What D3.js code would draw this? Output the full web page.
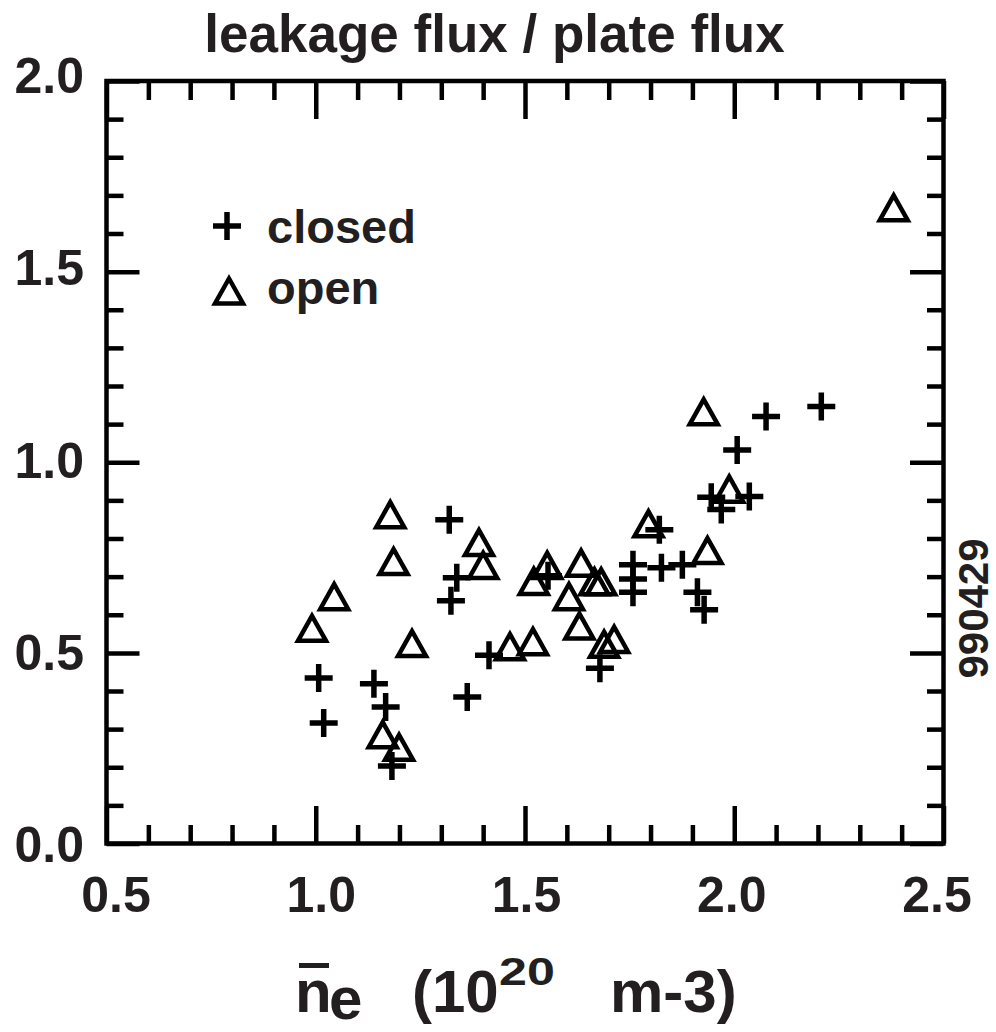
<!DOCTYPE html>
<html><head><meta charset="utf-8">
<script src="https://cdn.jsdelivr.net/npm/d3@7"></script>
<style>
body{margin:0;background:#fff}
svg text{font-family:"Liberation Sans",Arial,Helvetica,sans-serif;font-weight:bold;fill:#231f20}
</style>
</head><body><svg id="c" width="996" height="1032"></svg>
<script>
// ---- data ----
const closedX = [1.007,1.019,1.139,1.167,1.182,1.319,1.337,1.323,1.362,1.414,1.555,1.679,1.758,1.758,1.758,1.821,1.826,1.876,1.912,1.928,1.945,1.969,2.036,2.007,2.076,2.208];
const closedY = [0.434,0.316,0.419,0.358,0.203,0.849,0.697,0.637,0.384,0.494,0.702,0.460,0.731,0.694,0.659,0.823,0.723,0.731,0.659,0.613,0.908,0.876,0.910,1.032,1.120,1.146];
const openX = [0.991,1.044,1.178,1.186,1.230,1.160,1.199,1.390,1.400,1.464,1.519,1.521,1.553,1.634,1.605,1.630,1.666,1.682,1.689,1.713,1.795,1.936,1.927,1.988,2.381];
const openY = [0.567,0.650,0.865,0.742,0.527,0.288,0.255,0.792,0.732,0.519,0.532,0.690,0.732,0.738,0.650,0.573,0.689,0.689,0.525,0.538,0.841,0.771,1.135,0.932,1.670];
const xTicks = [0.5,1.0,1.5,2.0,2.5];
const xTickLabels = ["0.5","1.0","1.5","2.0","2.5"];
const yTicks = [0.0,0.5,1.0,1.5,2.0];
const yTickLabels = ["0.0","0.5","1.0","1.5","2.0"];
const seriesNames = ["closed","open"];
const chartTitle = "leakage flux / plate flux";
const stamp = "990429";

// ---- layout ----
const svg = d3.select("#c");
const x = d3.scaleLinear().domain([0.5,2.5]).range([106.5,943.5]);
const y = d3.scaleLinear().domain([0,2]).range([843.5,81]);
const xLab = d3.scaleLinear().domain([0.5,2.5]).range([116,937]);
const yLab = d3.scaleLinear().domain([0,2]).range([862,93]);
const minorX = d3.range(0.5,2.5001,0.1).filter(v=>Math.abs(v*2-Math.round(v*2))>1e-6);
const minorY = d3.range(0,2.0001,0.1).filter(v=>Math.abs(v*2-Math.round(v*2))>1e-6);

function styleAxis(g){
  g.select(".domain").remove();
  g.selectAll("line").attr("stroke","#000").attr("stroke-width",4.5);
  g.selectAll("text").remove();
}
// bottom
svg.append("g").attr("transform",`translate(0,${y(0)})`).call(d3.axisBottom(x).tickValues(xTicks).tickSize(-37.5).tickFormat("")).call(styleAxis);
svg.append("g").attr("transform",`translate(0,${y(0)})`).call(d3.axisBottom(x).tickValues(minorX).tickSize(-18.5).tickFormat("")).call(styleAxis);
// top
svg.append("g").attr("transform",`translate(0,${y(2)})`).call(d3.axisTop(x).tickValues(xTicks).tickSize(-38).tickFormat("")).call(styleAxis);
svg.append("g").attr("transform",`translate(0,${y(2)})`).call(d3.axisTop(x).tickValues(minorX).tickSize(-19).tickFormat("")).call(styleAxis);
// left
svg.append("g").attr("transform",`translate(${x(0.5)},0)`).call(d3.axisLeft(y).tickValues(yTicks).tickSize(-33).tickFormat("")).call(styleAxis);
svg.append("g").attr("transform",`translate(${x(0.5)},0)`).call(d3.axisLeft(y).tickValues(minorY).tickSize(-17).tickFormat("")).call(styleAxis);
// right
svg.append("g").attr("transform",`translate(${x(2.5)},0)`).call(d3.axisRight(y).tickValues(yTicks).tickSize(-33.5).tickFormat("")).call(styleAxis);
svg.append("g").attr("transform",`translate(${x(2.5)},0)`).call(d3.axisRight(y).tickValues(minorY).tickSize(-16.5).tickFormat("")).call(styleAxis);

// frame
svg.append("rect").attr("x",x(0.5)).attr("y",y(2)).attr("width",x(2.5)-x(0.5)).attr("height",y(0)-y(2))
  .attr("fill","none").attr("stroke","#000").attr("stroke-width",4.5);

// tick labels
svg.append("g").selectAll("text").data(xTicks).join("text")
  .attr("x",d=>xLab(d)).attr("y",912).attr("text-anchor","middle").attr("font-size",50)
  .text((d,i)=>xTickLabels[i]);
svg.append("g").selectAll("text").data(yTicks).join("text")
  .attr("x",84).attr("y",d=>yLab(d)).attr("text-anchor","end").attr("font-size",50)
  .text((d,i)=>yTickLabels[i]);

// title
svg.append("text").attr("x",494.5).attr("y",52).attr("text-anchor","middle").attr("font-size",53).text(chartTitle);

// axis title: n-bar_e (10^20 m-3)
const at = svg.append("g");
at.append("text").attr("x",295).attr("y",1012).attr("font-size",60).text("n");
at.append("line").attr("x1",299).attr("x2",329).attr("y1",965.5).attr("y2",965.5).attr("stroke","#231f20").attr("stroke-width",5);
at.append("text").attr("x",329).attr("y",1019).attr("font-size",60).text("e");
at.append("text").attr("x",412).attr("y",1012).attr("font-size",60).text("(10");
at.append("text").attr("transform","translate(499,985) scale(1.32,1)").attr("font-size",38).text("20");
at.append("text").attr("x",610).attr("y",1012).attr("font-size",60).text("m-3)");

// stamp
svg.append("text").attr("transform","translate(988,608.5) rotate(-90)").attr("text-anchor","middle").attr("font-size",42).text(stamp);

// markers
const plusPath = "M-14,0H14M0,-14V14";
const triPath = "M0,-11.5L14,13.5L-14,13.5Z";
const closedData = closedX.map((v,i)=>({x:v,y:closedY[i]}));
const openData = openX.map((v,i)=>({x:v,y:openY[i]}));
svg.append("g").selectAll("path").data(closedData).join("path")
  .attr("d",plusPath).attr("transform",d=>`translate(${x(d.x)},${y(d.y)})`)
  .attr("fill","none").attr("stroke","#000").attr("stroke-width",5.5);
svg.append("g").selectAll("path").data(openData).join("path")
  .attr("d",triPath).attr("transform",d=>`translate(${x(d.x)},${y(d.y)})`)
  .attr("fill","none").attr("stroke","#000").attr("stroke-width",4.5).attr("stroke-linejoin","miter");

// legend
const lg = svg.append("g");
lg.append("path").attr("d",plusPath).attr("transform","translate(227,226)").attr("fill","none").attr("stroke","#000").attr("stroke-width",5.5);
lg.append("text").attr("x",267).attr("y",243).attr("font-size",47).text(seriesNames[0]);
lg.append("path").attr("d",triPath).attr("transform","translate(229,290)").attr("fill","none").attr("stroke","#000").attr("stroke-width",4.5);
lg.append("text").attr("x",267).attr("y",303.5).attr("font-size",47).text(seriesNames[1]);
</script>
</body></html>
